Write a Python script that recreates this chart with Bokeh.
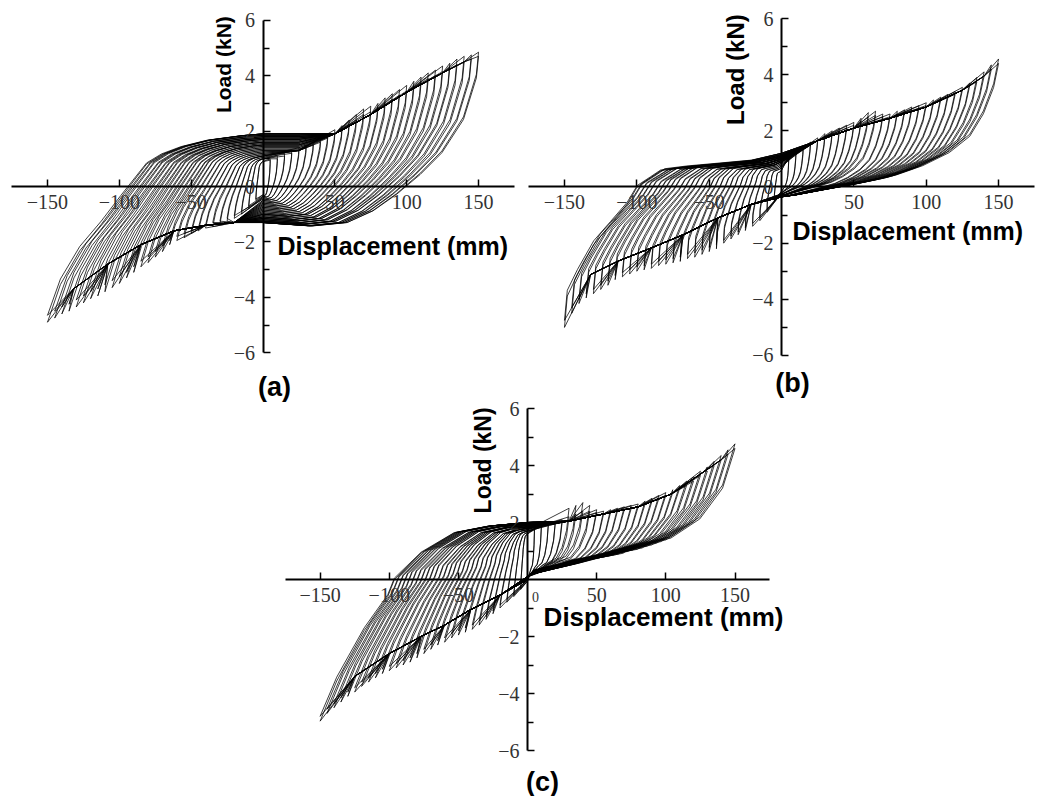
import math
from bokeh.plotting import figure
from bokeh.models import FixedTicker, Label
from bokeh.layouts import column, row
from bokeh.embed import file_html
from bokeh.resources import INLINE

# ---------------- data ----------------
AMP = [5, 10, 15, 20, 25, 30, 35, 40, 45, 50, 55, 60, 65, 70, 75,
       80, 85, 90, 95, 100, 105, 110, 115, 120, 125, 130, 135, 140, 145, 150]

X_TICKS = [-150, -100, -50, 50, 100, 150]
Y_TICKS_AB = [-6, -4, -2, 0, 2, 4, 6]
Y_TICKS_C = [-6, -4, -2, 2, 4, 6]
Y_MINOR = [-5, -3, -1, 1, 3, 5]

# panel (a): first and repeated cycle peaks, pinch levels, guide curves, branch shapes
POS_PEAK_A = [1.0, 1.1, 1.2, 1.3, 1.4, 1.5, 1.6, 1.75, 1.9, 2.05, 2.2, 2.4, 2.6, 2.8, 2.9,
              3.0, 3.2, 3.35, 3.5, 3.65, 3.8, 3.95, 4.1, 4.2, 4.35, 4.45, 4.6, 4.7, 4.75, 4.85]
POS2_A = [0.95, 1.0, 1.1, 1.2, 1.3, 1.4, 1.5, 1.6, 1.75, 1.9, 2.05, 2.25, 2.4, 2.6, 2.7,
          2.85, 3.0, 3.15, 3.3, 3.45, 3.6, 3.75, 3.9, 4.0, 4.15, 4.3, 4.4, 4.5, 4.6, 4.7]
NEG_PEAK_A = [-0.5, -0.8, -1.0, -1.15, -1.25, -1.35, -1.45, -1.5, -1.6, -1.7, -1.85, -1.95, -2.1, -2.35, -2.55,
              -2.75, -2.9, -3.1, -3.3, -3.5, -3.65, -3.8, -3.95, -4.05, -4.2, -4.35, -4.5, -4.6, -4.75, -4.9]
NEG2_A = [-0.45, -0.7, -0.9, -1.05, -1.15, -1.25, -1.3, -1.4, -1.5, -1.6, -1.7, -1.8, -1.95, -2.15, -2.35,
          -2.55, -2.7, -2.9, -3.1, -3.25, -3.4, -3.55, -3.7, -3.8, -3.95, -4.1, -4.25, -4.35, -4.5, -4.65]
TOP_A = [0.9, 1.0, 1.0, 1.05, 1.1, 1.1, 1.15, 1.2, 1.25, 1.3, 1.35, 1.4, 1.45, 1.5, 1.5,
         1.55, 1.6, 1.6, 1.65, 1.7, 1.7, 1.75, 1.75, 1.8, 1.8, 1.85, 1.85, 1.9, 1.9, 1.9]
BOT_A = [-0.3, -0.35, -0.4, -0.45, -0.5, -0.55, -0.6, -0.65, -0.7, -0.75, -0.8, -0.85, -0.9, -0.95, -1.0,
         -1.0, -1.05, -1.1, -1.1, -1.15, -1.15, -1.2, -1.2, -1.25, -1.25, -1.25, -1.3, -1.3, -1.3, -1.3]
UG_X_A = [0, 25, 50, 75, 100, 125, 140]
UG_Y_A = [1.0, 1.3, 1.9, 2.6, 3.4, 4.1, 4.5]
LG_X_A = [0, -20, -40, -62, -85, -108, -132]
LG_Y_A = [-1.2, -1.3, -1.4, -1.6, -2.1, -2.8, -3.7]
RS_A = [0, 0.06, 0.15, 0.25, 0.34, 0.46, 0.53, 0.62, 0.74, 0.9, 1.0]
RR_A = [0, 0.2, 0.38, 0.52, 0.66, 0.84, 0.89, 0.93, 0.965, 0.99, 1.0]
US_A = [0, 0.01, 0.07, 0.17, 0.27, 0.38, 0.49, 0.61, 0.77, 1.0]
UR_A = [0, 0.13, 0.38, 0.58, 0.71, 0.83, 0.93, 1.0, 1.02, 1.0]

# panel (b)
POS_PEAK_B = [1.1, 1.3, 1.45, 1.6, 1.75, 1.9, 2.0, 2.1, 2.2, 2.3, 2.45, 2.65, 2.7, 2.6, 2.6,
              2.7, 2.75, 2.85, 2.9, 3.0, 3.1, 3.2, 3.3, 3.4, 3.55, 3.7, 3.9, 4.1, 4.35, 4.56]
POS2_B = [1.05, 1.2, 1.35, 1.5, 1.65, 1.8, 1.9, 2.0, 2.1, 2.2, 2.35, 2.5, 2.55, 2.5, 2.5,
          2.6, 2.65, 2.75, 2.8, 2.9, 3.0, 3.1, 3.2, 3.3, 3.45, 3.6, 3.75, 3.95, 4.2, 4.4]
NEG_PEAK_B = [-0.5, -0.9, -1.2, -1.4, -1.55, -1.7, -1.85, -2.0, -2.2, -2.3, -2.4, -2.5, -2.55, -2.65, -2.7,
              -2.75, -2.8, -2.9, -2.95, -3.0, -3.1, -3.2, -3.3, -3.5, -3.65, -3.8, -3.95, -4.15, -4.5, -5.0]
NEG2_B = [-0.45, -0.8, -1.1, -1.3, -1.45, -1.6, -1.75, -1.9, -2.05, -2.15, -2.25, -2.35, -2.4, -2.5, -2.55,
          -2.6, -2.65, -2.75, -2.8, -2.85, -2.95, -3.05, -3.15, -3.35, -3.5, -3.65, -3.8, -4.0, -4.3, -4.75]
TOP_B = [0.6, 0.7, 0.75, 0.8, 0.85, 0.9, 0.9, 0.9, 0.95, 0.95, 0.95, 1.0, 1.0, 1.0, 1.0,
         1.0, 1.05, 1.05, 1.05, 1.05, 1.1, 1.1, 1.1, 1.1, 1.1, 1.15, 1.15, 1.15, 1.2, 1.2]
BOT_B = [-0.15, -0.2, -0.2, -0.25, -0.25, -0.25, -0.3, -0.3, -0.3, -0.3, -0.3, -0.3, -0.3, -0.35, -0.35,
         -0.35, -0.35, -0.35, -0.35, -0.35, -0.35, -0.35, -0.35, -0.35, -0.35, -0.35, -0.35, -0.35, -0.35, -0.35]
UG_X_B = [0, 25, 50, 75, 100, 125, 140]
UG_Y_B = [1.2, 1.65, 2.1, 2.45, 2.85, 3.45, 3.95]
LG_X_B = [0, -21, -44, -68, -90, -113, -132]
LG_Y_B = [-0.35, -0.62, -1.1, -1.7, -2.17, -2.64, -3.12]
RS_B = [0, 0.013, 0.06, 0.135, 0.213, 0.289, 0.335, 0.397, 0.443, 0.549, 0.704, 0.857, 1.0]
RR_B = [0, 0.18, 0.305, 0.477, 0.593, 0.707, 0.807, 0.86, 0.9, 0.918, 0.937, 0.956, 1.0]
US_B = [0, 0.023, 0.07, 0.133, 0.227, 0.349, 0.473, 0.613, 0.767, 0.923, 1.0]
UR_B = [0, 0.18, 0.377, 0.546, 0.668, 0.766, 0.837, 0.886, 0.933, 0.982, 1.0]

# panel (c)
POS_PEAK_C = [1.8, 1.9, 1.95, 2.0, 2.1, 2.5, 2.6, 2.7, 2.6, 2.45, 2.4, 2.45, 2.5, 2.55, 2.6,
              2.65, 2.75, 2.85, 2.95, 3.05, 3.15, 3.3, 3.45, 3.6, 3.8, 3.95, 4.15, 4.35, 4.55, 4.76]
POS2_C = [1.75, 1.85, 1.9, 1.95, 2.0, 2.2, 2.3, 2.4, 2.4, 2.35, 2.3, 2.35, 2.4, 2.45, 2.5,
          2.55, 2.65, 2.75, 2.85, 2.95, 3.05, 3.2, 3.3, 3.45, 3.65, 3.8, 4.0, 4.2, 4.4, 4.6]
NEG_PEAK_C = [-0.35, -0.6, -0.8, -1.0, -1.2, -1.4, -1.6, -1.75, -1.85, -1.95, -2.05, -2.2, -2.3, -2.45, -2.6,
              -2.75, -2.9, -3.0, -3.1, -3.2, -3.3, -3.45, -3.6, -3.75, -3.95, -4.1, -4.3, -4.5, -4.7, -4.97]
NEG2_C = [-0.3, -0.55, -0.7, -0.9, -1.1, -1.3, -1.45, -1.6, -1.7, -1.8, -1.9, -2.05, -2.15, -2.3, -2.45,
          -2.6, -2.75, -2.85, -2.95, -3.05, -3.15, -3.3, -3.45, -3.6, -3.8, -3.95, -4.15, -4.35, -4.55, -4.8]
TOP_C = [1.6, 1.65, 1.7, 1.7, 1.75, 1.75, 1.8, 1.8, 1.8, 1.8, 1.85, 1.85, 1.85, 1.85, 1.9,
         1.9, 1.9, 1.9, 1.9, 1.95, 1.95, 1.95, 1.95, 1.95, 2.0, 2.0, 2.0, 2.0, 2.0, 2.0]
BOT_C = [-0.05, -0.05, 0.0, 0.0, 0.0, 0.0, 0.0, 0.0, 0.0, 0.0, 0.05, 0.05, 0.05, 0.05, 0.05,
         0.05, 0.05, 0.05, 0.05, 0.05, 0.1, 0.1, 0.1, 0.1, 0.1, 0.1, 0.1, 0.1, 0.1, 0.1]
UG_X_C = [0, 30, 55, 80, 104, 128, 140]
UG_Y_C = [1.8, 2.05, 2.3, 2.55, 3.0, 3.8, 4.2]
LG_X_C = [0, -20, -41, -60, -77, -100, -125]
LG_Y_C = [-0.1, -0.55, -1.05, -1.6, -2.0, -2.6, -3.4]
RS_C = [0, 0.08, 0.213, 0.326, 0.358, 0.487, 0.647, 0.808, 1.0]
RR_C = [0, 0.202, 0.457, 0.627, 0.713, 0.847, 0.948, 0.981, 1.0]
US_C = [0, 0.06, 0.17, 0.31, 0.47, 0.63, 0.97, 1.0]
UR_C = [0, 0.31, 0.55, 0.70, 0.75, 0.82, 0.95, 1.0]


def build_loops(pp, nn, top, bot, ugx, ugy, lgx, lgy, rs, rr, us, ur):
    xs_all, ys_all = [], []
    for A, P, N, T, B in zip(AMP, pp, nn, top, bot):
        xs, ys = [], []
        for s, r in zip(rs, rr):
            xs.append(-A + s * A)
            ys.append(N + (T - N) * r)
        for gx, gy in zip(ugx, ugy):
            if 0 < gx < A:
                xs.append(gx)
                ys.append(max(T, gy))
        xs.append(A)
        ys.append(P)
        for s, r in zip(us[1:], ur[1:]):
            xs.append(A - s * A)
            ys.append(P + (B - P) * r)
        for gx, gy in zip(lgx, lgy):
            if -A < gx < 0:
                xs.append(gx)
                ys.append(min(B, gy))
        xs.append(-A)
        ys.append(N)
        xs_all.append(xs)
        ys_all.append(ys)
    return xs_all, ys_all


def minus(v):
    return ("\u2212" + str(abs(v))) if v < 0 else str(v)


def bold_label(p, x, y, text, size, align="center", angle=0.0):
    p.add_layout(Label(x=x, y=y, text=text, angle=angle,
                       text_align=align, text_baseline="middle",
                       text_font="Liberation Sans", text_font_style="bold",
                       text_font_size=size, text_color="black"))


def make_panel(width, height, xr, yr, loops, yticks, load_pos, load_size,
               disp_pos, disp_size):
    p = figure(width=width, height=height, x_range=xr, y_range=yr,
               output_backend="svg", toolbar_location=None, title=None,
               min_border_left=0, min_border_right=0,
               min_border_top=0, min_border_bottom=0)
    p.outline_line_color = None
    p.grid.visible = False
    p.background_fill_color = "white"
    p.border_fill_color = "white"

    for xs, ys in loops:
        p.multi_line(xs, ys, line_color="black", line_width=0.85, line_alpha=0.9)

    p.xaxis.fixed_location = 0
    p.yaxis.fixed_location = 0
    p.xaxis.bounds = (-175, 175)
    p.yaxis.bounds = (-6, 6)
    p.xaxis.ticker = FixedTicker(ticks=X_TICKS)
    p.yaxis.ticker = FixedTicker(ticks=yticks, minor_ticks=Y_MINOR)
    p.xaxis.major_label_overrides = {v: minus(v) for v in X_TICKS}
    p.yaxis.major_label_overrides = {v: minus(v) for v in yticks}
    for ax in (p.xaxis[0], p.yaxis[0]):
        ax.axis_line_width = 2
        ax.axis_line_color = "black"
        ax.major_tick_in = 7
        ax.major_tick_out = 0
        ax.minor_tick_in = 6
        ax.minor_tick_out = 0
        ax.major_tick_line_width = 1.5
        ax.minor_tick_line_width = 1.5
        ax.major_tick_line_color = "black"
        ax.minor_tick_line_color = "black"
        ax.major_label_text_font = "Liberation Serif"
        ax.major_label_text_font_size = "20px"
        ax.major_label_text_color = "#333333"
        ax.major_label_standoff = 8

    bold_label(p, load_pos[0], load_pos[1], "Load (kN)", load_size, "center", math.pi / 2)
    bold_label(p, disp_pos[0], disp_pos[1], "Displacement (mm)", disp_size, "left")
    return p


loops_a = [build_loops(POS_PEAK_A, NEG_PEAK_A, TOP_A, BOT_A, UG_X_A, UG_Y_A,
                       LG_X_A, LG_Y_A, RS_A, RR_A, US_A, UR_A),
           build_loops(POS2_A, NEG2_A, TOP_A, BOT_A, UG_X_A, UG_Y_A,
                       LG_X_A, LG_Y_A, RS_A, RR_A, US_A, UR_A)]
loops_b = [build_loops(POS_PEAK_B, NEG_PEAK_B, TOP_B, BOT_B, UG_X_B, UG_Y_B,
                       LG_X_B, LG_Y_B, RS_B, RR_B, US_B, UR_B),
           build_loops(POS2_B, NEG2_B, TOP_B, BOT_B, UG_X_B, UG_Y_B,
                       LG_X_B, LG_Y_B, RS_B, RR_B, US_B, UR_B)]
loops_c = [build_loops(POS_PEAK_C, NEG_PEAK_C, TOP_C, BOT_C, UG_X_C, UG_Y_C,
                       LG_X_C, LG_Y_C, RS_C, RR_C, US_C, UR_C),
           build_loops(POS2_C, NEG2_C, TOP_C, BOT_C, UG_X_C, UG_Y_C,
                       LG_X_C, LG_Y_C, RS_C, RR_C, US_C, UR_C)]

pa = make_panel(520, 368, (-182.7, 179.2), (-6.570, 6.715), loops_a, Y_TICKS_AB,
                (-27.5, 4.4), "21px", (10.1, -2.13), "25px")
pb = make_panel(516, 368, (-180.4, 176.2), (-6.464, 6.642), loops_b, Y_TICKS_AB,
                (-31.8, 4.18), "24px", (7.5, -1.55), "25px")
pc = make_panel(1036, 428, (-381.1, 368.0), (-7.614, 7.404), loops_c, Y_TICKS_C,
                (-32.2, 4.18), "23px", (11.6, -1.33), "26px")
# panel tags (the lower canvas spans the full width under the first row)
bold_label(pc, -182.9, 6.74, "(a)", "27px")
bold_label(pc, 191.6, 6.88, "(b)", "27px")
bold_label(pc, 10.8, -7.09, "(c)", "27px")
pc.add_layout(Label(x=5.8, y=-0.6, text="0", text_align="center", text_baseline="middle",
                    text_font="Liberation Serif", text_font_size="14px", text_color="#333333"))

layout = column(row(pa, pb), pc)
open("out.html", "w").write(file_html(layout, INLINE))
